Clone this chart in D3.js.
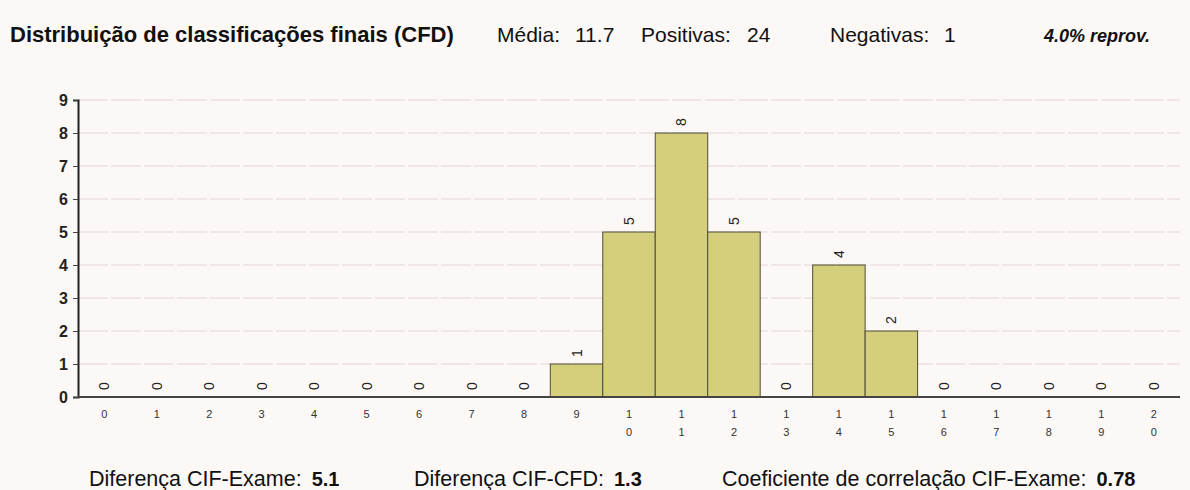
<!DOCTYPE html>
<html>
<head>
<meta charset="utf-8">
<script src="https://cdn.jsdelivr.net/npm/d3@7"></script>
<style>
  body { margin: 0; background: #fcf8f6; }
  svg { font-family: "Liberation Sans", Arial, sans-serif; }
</style>
</head>
<body>
<div id="chart"></div>
<script>
// Data
const grades = d3.range(0, 21).map(String)
const counts = [0, 0, 0, 0, 0, 0, 0, 0, 0, 1, 5, 8, 5, 0, 4, 2, 0, 0, 0, 0, 0]
const yTicks = [0, 1, 2, 3, 4, 5, 6, 7, 8, 9]
const headerLabels = ['Média:', 'Positivas:', 'Negativas:']
const headerValues = ['11.7', '24', '1']
const footerLabels = ['Diferença CIF-Exame:', 'Diferença CIF-CFD:', 'Coeficiente de correlação CIF-Exame:']
const footerValues = ['5.1', '1.3', '0.78']

function draw() {
  let dimensions = {
    width: 1190,
    height: 490,
    left: 78,
    right: 1180,
    top: 100,
    bottom: 397,
  }

  const svg = d3.select('#chart')
    .append('svg')
    .attr('width', dimensions.width)
    .attr('height', dimensions.height)

  svg.append('rect')
    .attr('width', dimensions.width)
    .attr('height', dimensions.height)
    .attr('fill', '#fcf8f6')

  // Header
  svg.append('text')
    .attr('x', 10)
    .attr('y', 42)
    .attr('font-size', 22)
    .attr('font-weight', 'bold')
    .attr('fill', '#111')
    .text('Distribuição de classificações finais (CFD)')

  const hdrLabelX = [497, 641, 830]
  const hdrValueX = [575, 747, 944]
  headerLabels.forEach((lbl, i) => {
    svg.append('text')
      .attr('x', hdrLabelX[i])
      .attr('y', 42)
      .attr('font-size', 21)
      .attr('fill', '#111')
      .text(lbl)
    svg.append('text')
      .attr('x', hdrValueX[i])
      .attr('y', 42)
      .attr('font-size', 21)
      .attr('fill', '#111')
      .text(headerValues[i])
  })

  svg.append('text')
    .attr('x', 1044)
    .attr('y', 42)
    .attr('font-size', 18)
    .attr('font-weight', 'bold')
    .attr('font-style', 'italic')
    .attr('fill', '#111')
    .text('4.0% reprov.')

  // Scales
  const xScale = d3.scaleBand()
    .domain(grades)
    .range([dimensions.left, dimensions.right])
    .padding(0)

  const yScale = d3.scaleLinear()
    .domain([0, 9])
    .range([dimensions.bottom, dimensions.top])

  const bins = grades.map((g, i) => ({ grade: g, count: counts[i] }))

  // Grid
  svg.append('g')
    .selectAll('line')
    .data(yTicks.filter(d => d > 0))
    .join('line')
    .attr('x1', dimensions.left)
    .attr('x2', dimensions.right)
    .attr('y1', d => yScale(d))
    .attr('y2', d => yScale(d))
    .attr('stroke', '#e4d4d4')
    .attr('stroke-width', 1)
    .attr('stroke-dasharray', '30 3')

  // Bars
  svg.append('g')
    .selectAll('rect')
    .data(bins.filter(d => d.count > 0))
    .join('rect')
    .attr('x', d => xScale(d.grade))
    .attr('y', d => yScale(d.count))
    .attr('width', xScale.bandwidth())
    .attr('height', d => yScale(0) - yScale(d.count))
    .attr('fill', '#d5cf7d')
    .attr('stroke', '#4f4d36')
    .attr('stroke-width', 1)

  // Value labels (rotated)
  svg.append('g')
    .selectAll('text')
    .data(bins)
    .join('text')
    .attr('transform', d =>
      `translate(${xScale(d.grade) + xScale.bandwidth() / 2},${yScale(d.count) - 11}) rotate(-90)`)
    .attr('text-anchor', 'middle')
    .attr('dominant-baseline', 'central')
    .attr('font-size', 14)
    .attr('fill', '#222')
    .text(d => d.count)

  // Y axis
  const yAxis = d3.axisLeft(yScale)
    .tickValues(yTicks)
    .tickSize(5)
    .tickFormat(d3.format('d'))

  const yG = svg.append('g')
    .attr('transform', `translate(${dimensions.left},0)`)
    .call(yAxis)
  yG.select('.domain').attr('stroke', '#222').attr('stroke-width', 2)
  yG.selectAll('.tick line').attr('stroke', '#444')
  yG.selectAll('.tick text')
    .attr('font-size', 16)
    .attr('font-weight', 'bold')
    .attr('fill', '#222')
    .attr('font-family', '"Liberation Sans", Arial, sans-serif')
    .attr('x', -10)

  // X axis line
  svg.append('line')
    .attr('x1', dimensions.left)
    .attr('x2', dimensions.right)
    .attr('y1', yScale(0))
    .attr('y2', yScale(0))
    .attr('stroke', '#444')
    .attr('stroke-width', 2)

  // X labels (digits stacked)
  svg.append('g')
    .selectAll('text')
    .data(grades)
    .join('text')
    .attr('x', d => xScale(d) + xScale.bandwidth() / 2)
    .attr('y', 418)
    .attr('text-anchor', 'middle')
    .attr('font-size', 11)
    .attr('fill', '#333')
    .each(function(d) {
      const t = d3.select(this)
      d.split('').forEach((ch, k) => {
        t.append('tspan')
          .attr('x', xScale(d) + xScale.bandwidth() / 2)
          .attr('dy', k === 0 ? 0 : 18)
          .text(ch)
      })
    })

  // Footer
  const footerX = [89, 414, 722]
  footerLabels.forEach((lbl, i) => {
    const label = svg.append('text')
      .attr('x', footerX[i])
      .attr('y', 486)
      .attr('font-size', 21.5)
      .attr('fill', '#111')
      .text(lbl)
    const end = footerX[i] + label.node().getComputedTextLength()
    svg.append('text')
      .attr('x', end + 10)
      .attr('y', 486)
      .attr('font-size', 20)
      .attr('font-weight', 'bold')
      .attr('fill', '#111')
      .text(footerValues[i])
  })
}

draw()
</script>
</body>
</html>
